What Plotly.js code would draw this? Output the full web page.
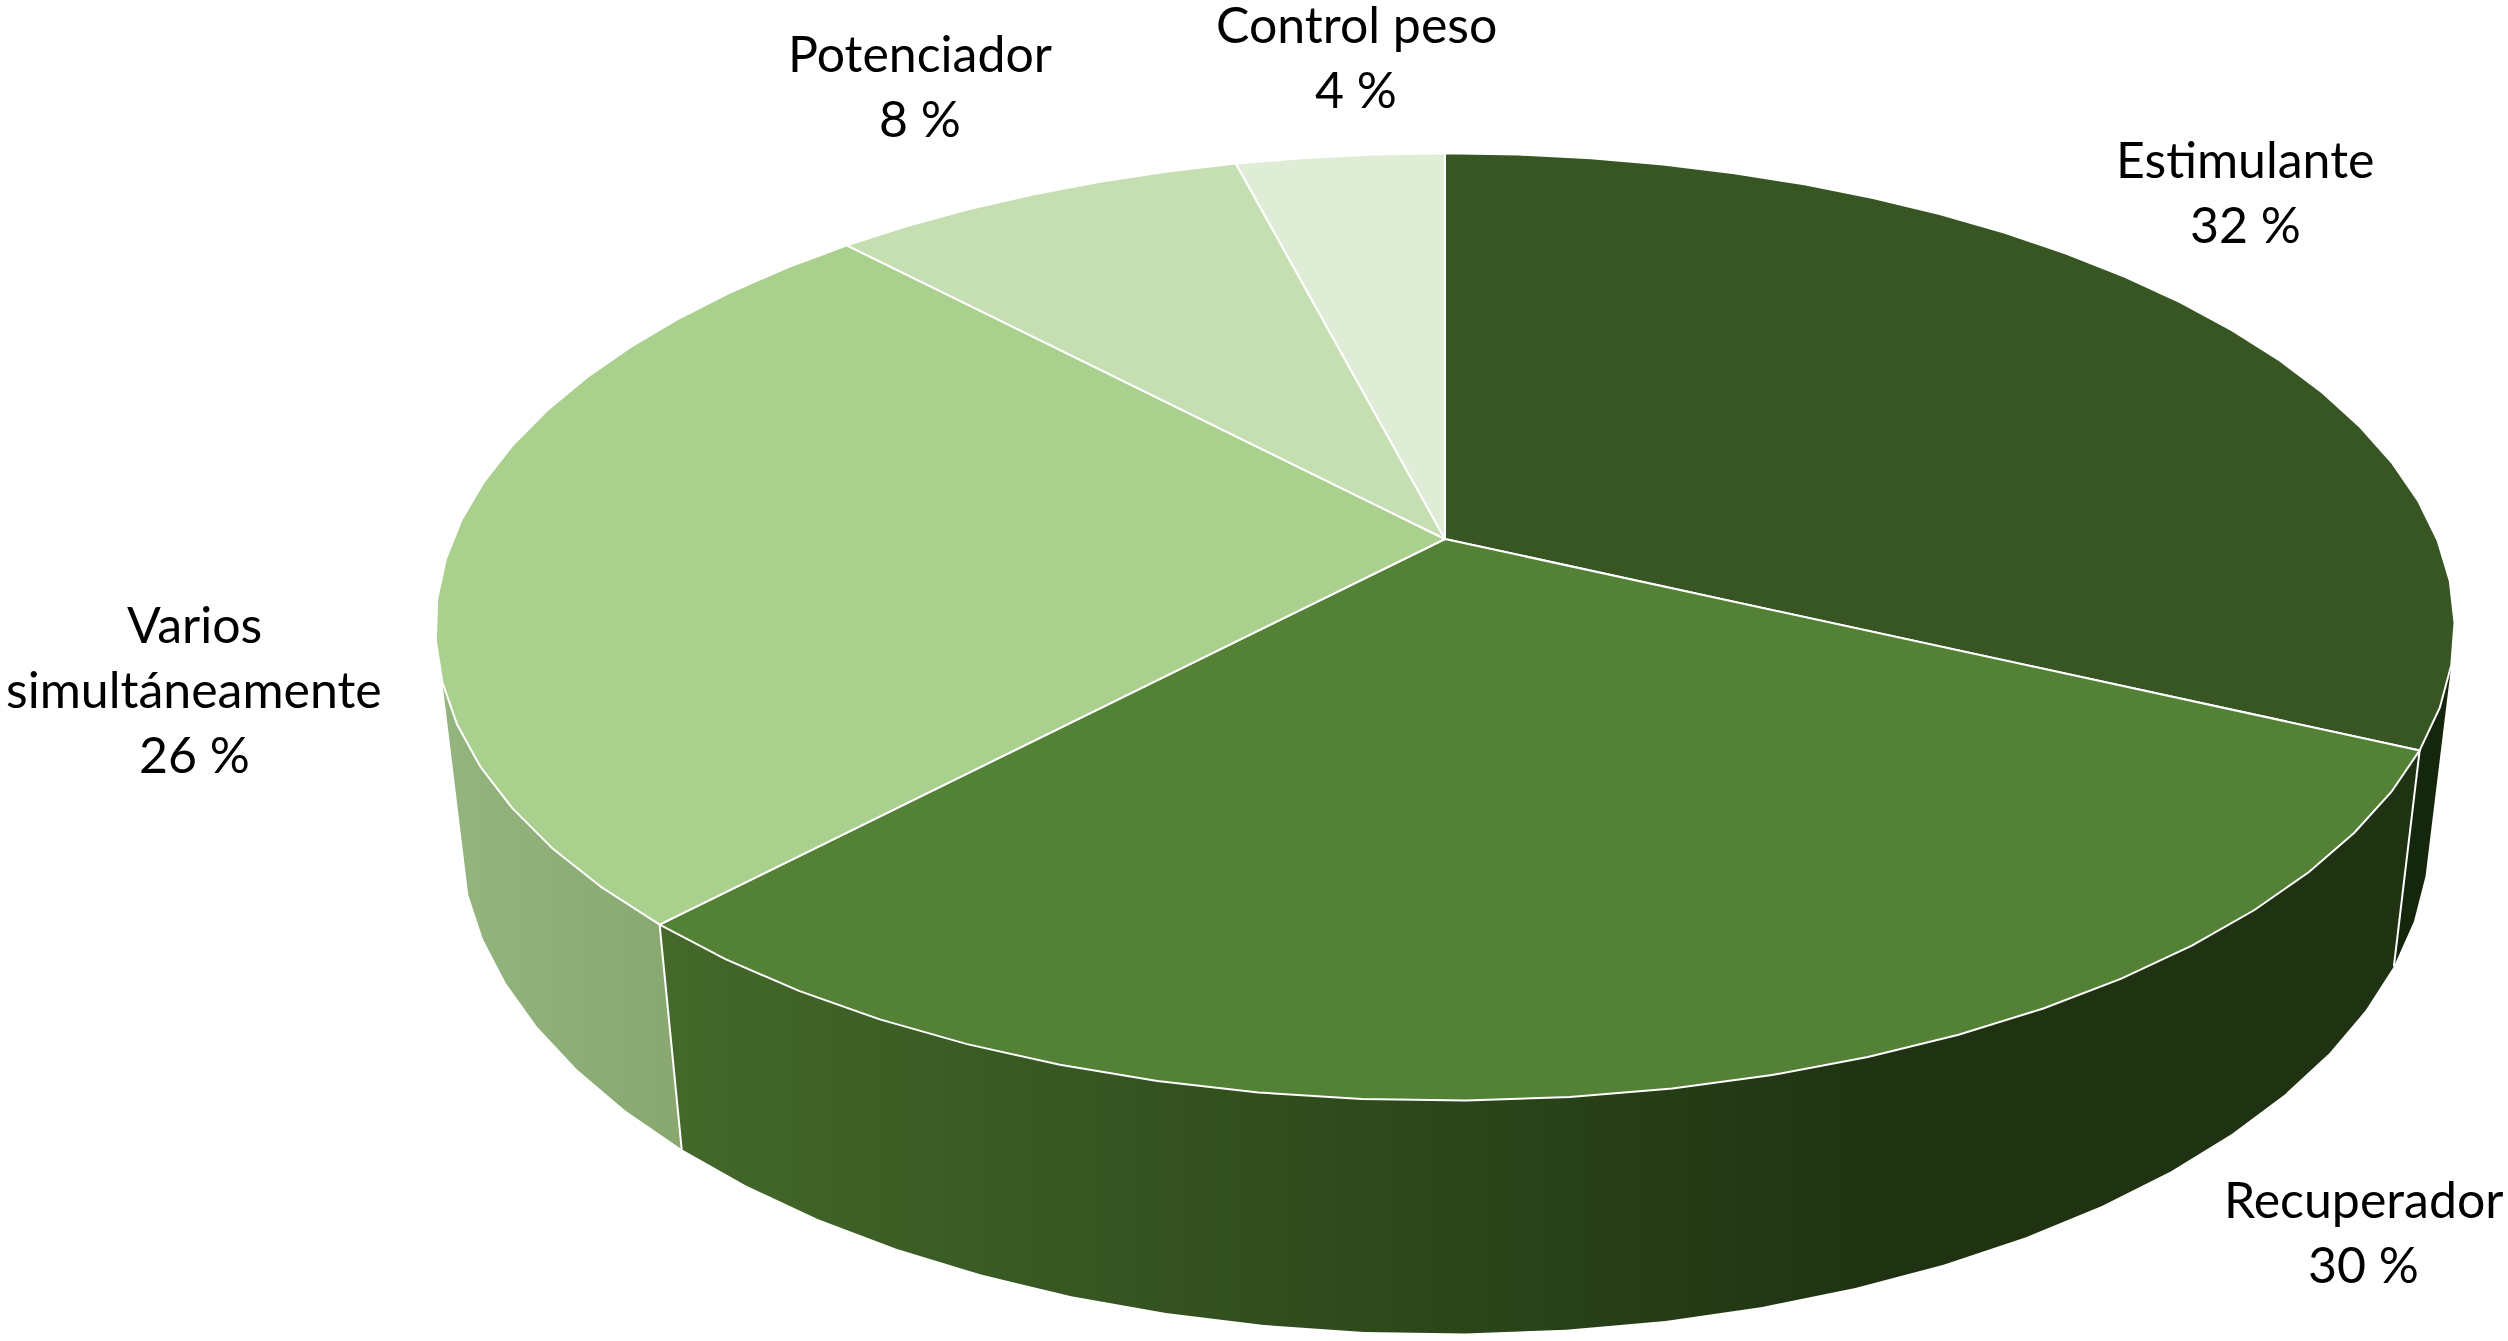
<!DOCTYPE html>
<html><head><meta charset="utf-8">
<script src="https://cdn.plot.ly/plotly-3.0.1.min.js"></script>
<style>html,body{margin:0;padding:0;background:#fff;overflow:hidden}#chart{width:2508px;height:1341px}</style>
</head><body><div id="chart"></div>
<script>
// ---- data ----
const categories = ['Estimulante', 'Recuperador', 'Varios simultáneamente', 'Potenciador', 'Control peso'];
const values = [32, 30, 26, 8, 4];
const labelLines = [['Estimulante', '32 %'], ['Recuperador', '30 %'], ['Varios', 'simultáneamente', '26 %'], ['Potenciador', '8 %'], ['Control peso', '4 %']];
const topColors = ['#375623', '#538135', '#A9D08C', '#C5DEB2', '#DFECD6'];
const segments = [23, 22, 19, 6, 3];
const wallScales = [
  {x0: 2300, x1: 2500, stops: [[0, '#14260C'], [1, '#14260C']]},
  {x0: 660, x1: 2400, stops: [[0, '#44692A'], [0.7, '#1F3312'], [1, '#1F3312']]},
  {x0: 440, x1: 680, stops: [[0, '#94B57E'], [1, '#88A870']]}
];
const labelCenters = [[2245, 159], [2363, 1199], [194, 624], [920, 53], [1356, 24]];

// ---- view geometry (perspective projection of the disc) ----
const view = {cx: 1445, cy: 539, a: 992, b: 457.3, c: 209.6, k: 0.1857, m: 0.025,
              wallFrom: 105, wallTo: 253, lineGap: 65, fontSize: 50};

function project(deg, z) {
  const t = deg * Math.PI / 180, u = Math.sin(t), v = -Math.cos(t);
  const w = 1 - view.k * v + view.m * z;
  return [view.cx + view.a * u / w, view.cy + (view.b * v + view.c * z) / w];
}

const total = values.reduce((s, v) => s + v, 0);
let start = 0;
const slices = values.map((val, i) => {
  const span = val / total * 360, angles = [];
  for (let j = 0; j <= segments[i]; j++) angles.push(start + span * j / segments[i]);
  start += span;
  return angles;
});

const traces = [];
// side walls, drawn first so the top covers them
wallScales.forEach((g, i) => {
  const a = slices[i].filter(d => d >= view.wallFrom && d <= view.wallTo);
  const top = a.map(d => project(d, 0)), bot = a.map(d => project(d, 1)).reverse();
  const pts = top.concat(bot);
  pts.push(pts[0]);
  traces.push({
    type: 'scatter', mode: 'lines', hoverinfo: 'skip', showlegend: false,
    x: pts.map(p => p[0]), y: pts.map(p => p[1]),
    line: {width: 0, color: g.stops[0][1]}, fill: 'toself', fillcolor: g.stops[0][1],
    fillgradient: {type: 'horizontal', start: g.x0, stop: g.x1, colorscale: g.stops}
  });
});
// white edges between the walls
[1, 2].forEach(i => {
  const d = slices[i][0], p = project(d, 0), q = project(d, 1);
  traces.push({type: 'scatter', mode: 'lines', hoverinfo: 'skip', showlegend: false,
    x: [p[0], q[0]], y: [p[1], q[1]], line: {color: '#fff', width: 2}});
});
// top slices
slices.forEach((a, i) => {
  const pts = [[view.cx, view.cy]].concat(a.map(d => project(d, 0)));
  pts.push(pts[0]);
  traces.push({
    type: 'scatter', mode: 'lines', name: categories[i], showlegend: false, hoverinfo: 'name',
    x: pts.map(p => p[0]), y: pts.map(p => p[1]),
    line: {color: '#fff', width: 2}, fill: 'toself', fillcolor: topColors[i]
  });
});

const annotations = [];
labelLines.forEach((lines, i) => lines.forEach((txt, j) => annotations.push({
  xref: 'x', yref: 'y', x: labelCenters[i][0], y: labelCenters[i][1] + j * view.lineGap,
  text: txt, showarrow: false, xanchor: 'center', yanchor: 'middle',
  font: {family: 'Lato, Carlito, sans-serif', size: view.fontSize, color: '#000'}
})));

Plotly.newPlot('chart', traces, {
  width: 2508, height: 1341, margin: {l: 0, r: 0, t: 0, b: 0},
  paper_bgcolor: '#fff', plot_bgcolor: '#fff', showlegend: false,
  xaxis: {range: [0, 2508], visible: false, fixedrange: true},
  yaxis: {range: [1341, 0], visible: false, fixedrange: true},
  annotations
}, {displayModeBar: false, staticPlot: true});
</script></body></html>
